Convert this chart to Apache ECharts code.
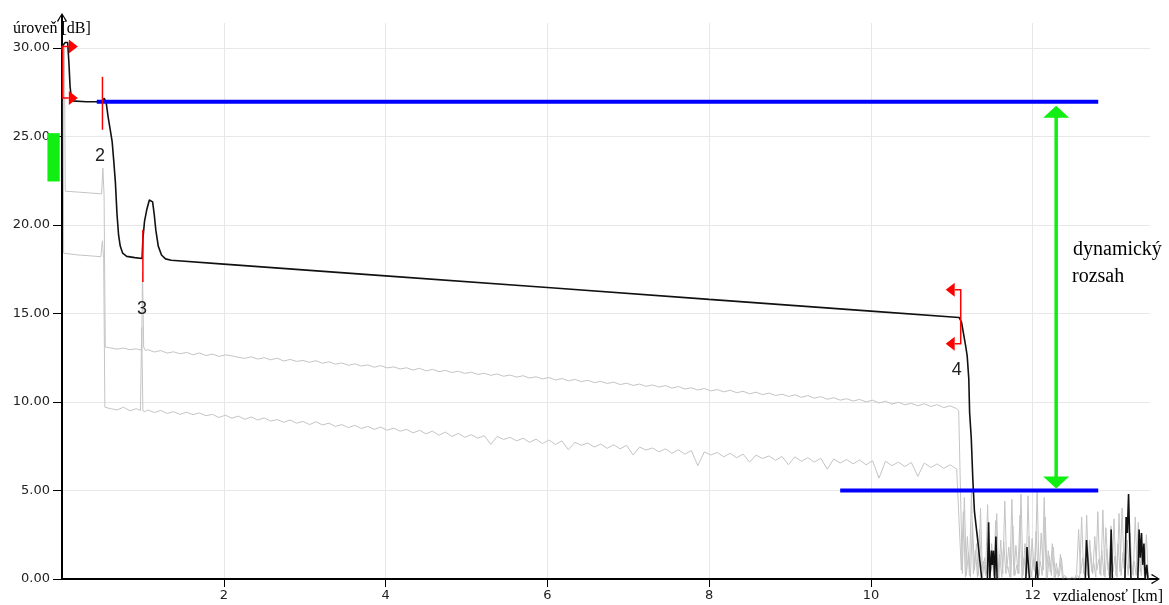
<!DOCTYPE html>
<html><head><meta charset="utf-8">
<script src="https://cdn.jsdelivr.net/npm/echarts@6/dist/echarts.min.js"></script>
<style>html,body{margin:0;padding:0;background:#fff}#c{width:1169px;height:605px}</style>
</head><body><div id="c"></div>
<script>
// ---------------- DATA ----------------
const yTickValues = [0, 5, 10, 15, 20, 25, 30];
const xTickValues = [2, 4, 6, 8, 10, 12];

// main (black) trace: [distance km, level dB]
const blackTrace = [
  [0,27.0],[0.005,30.1],[0.04,30.3],[0.07,30.3],[0.085,29.2],[0.1,27.8],[0.12,27.0],[0.14,26.95],[0.3,26.95],[0.5,26.95],
  [0.52,27.15],[0.545,26.95],[0.57,26.1],[0.595,25.4],[0.62,24.7],[0.64,23.6],[0.66,22.4],[0.68,20.6],[0.70,19.4],[0.72,18.8],
  [0.75,18.4],[0.8,18.22],[0.9,18.15],[0.99,18.1],[1.0,19.2],[1.02,20.2],[1.05,20.9],[1.08,21.4],[1.10,21.5],[1.12,21.3],
  [1.14,20.6],[1.16,19.7],[1.19,18.8],[1.23,18.3],[1.28,18.08],[1.35,18.0],[2,17.78],[4,17.12],[6,16.46],[8,15.79],
  [10,15.13],[11.09,14.77],[11.12,14.5],[11.17,13.2],[11.19,12.6],[11.21,11.3],[11.22,9.4],[11.24,8.0],[11.26,5.6],[11.28,3.8],
  [11.32,2.2],[11.37,0],[11.44,0],[11.455,3.2],[11.47,0],[11.49,1.6],[11.50,0.8],[11.515,1.6],[11.53,0],[11.545,2.4],
  [11.56,0],[11.915,0],[11.93,1.8],[11.945,0.9],[11.96,0],[12.035,0],[12.05,1.0],[12.065,0],[12.65,0],[12.665,2.2],
  [12.68,1.2],[12.695,0],[12.955,0],[12.97,2.8],[12.985,0],[13.14,0],[13.155,3.5],[13.17,2.6],[13.185,4.8],[13.20,2.0],
  [13.215,0],[13.30,0],[13.315,2.8],[13.33,1.2],[13.345,2.6],[13.36,0.8],[13.375,2.0],[13.39,0],[13.41,0.8],[13.425,0]
];

// upper grey trace
const upperGrayHead = [
  [0,30.1],[0.03,30.0],[0.04,21.9],[0.2,21.85],[0.35,21.8],[0.49,21.75],[0.505,23.2],[0.52,21.7],[0.535,13.1],[0.6,13.05],
  [0.68,12.98],[0.76,13.04],[0.84,12.95],[0.92,13.0],[0.985,12.92],[0.995,17.4],[1.01,13.1],[1.03,12.9]
];
const upperGrayStart = 1.06, upperGrayStep = 0.08;
const upperGrayLevels = [
  12.95,12.82,12.90,12.76,12.83,12.72,12.80,12.66,12.77,12.62,
  12.70,12.57,12.66,12.60,12.52,12.46,12.55,12.42,12.50,12.38,
  12.47,12.31,12.40,12.29,12.34,12.24,12.33,12.18,12.27,12.13,
  12.20,12.07,12.15,12.03,12.09,11.96,12.05,11.92,11.98,11.86,
  11.93,11.80,11.90,11.75,11.84,11.71,11.78,11.66,11.73,11.61,
  11.68,11.55,11.62,11.50,11.58,11.45,11.52,11.40,11.48,11.35,
  11.42,11.30,11.38,11.24,11.32,11.19,11.27,11.15,11.22,11.09,
  11.16,11.04,11.12,10.98,11.06,10.93,11.01,10.88,10.96,10.84,
  10.92,10.78,10.87,10.73,10.80,10.67,10.76,10.62,10.70,10.57,
  10.66,10.52,10.60,10.46,10.55,10.41,10.50,10.36,10.44,10.31,
  10.40,10.26,10.36,10.21,10.30,10.15,10.24,10.10,10.18,10.05,
  10.14,10.00,10.10,9.94,10.04,9.88,9.98,9.84,9.92,9.78,
  9.90,9.74,9.85,9.68,9.78,9.62
];
const upperGrayDrop = [[11.085,9.5]];
const upperNoiseStart = 11.13, upperNoiseStep = 0.025;
const upperNoiseLevels = [
  0.3,4.6,0.2,1.5,0.1,3.2,0.5,2.0,0.2,4.0,0.1,1.2,0.3,2.6,0.4,0.9,0.2,3.7,0,2.2,
  0.3,4.4,0.6,1.8,0.1,3.0,0.2,0.8,0.3,4.8,0.2,2.0,0.3,2.4,0.1,1.1,0.4,4.9,0.2,2.6,
  0.5,3.5,0,1.3,0.2,1.8,0.1,0.6,0.2,1.2,0,0.1,0,0,0.1,0,0,0.2,0,3.5,
  0.3,1.4,0.2,2.2,0.4,0.9,0.1,3.8,0.3,1.6,0.2,2.9,0.5,1.2,0.1,3.4,0.2,2.0,0.4,4.0,
  0.6,1.5,0.2,2.6,0.3,1.0,0.2,3.2,0.4,1.8,0.2,2.5,0
];

// lower grey trace
const lowerGrayHead = [
  [0,30.1],[0.015,29.0],[0.02,18.4],[0.2,18.3],[0.35,18.25],[0.48,18.2],[0.50,19.1],[0.515,18.1],[0.53,9.7],[0.6,9.62],
  [0.68,9.55],[0.76,9.7],[0.84,9.5],[0.92,9.62],[0.97,9.52],[0.985,14.2],[1.0,9.5],[1.03,9.45]
];
const lowerGrayStart = 1.06, lowerGrayStep = 0.08;
const lowerGrayLevels = [
  9.55,9.40,9.52,9.35,9.45,9.30,9.42,9.28,9.38,9.22,
  9.30,9.12,9.25,9.08,9.20,9.02,9.15,8.98,9.10,8.92,
  9.00,8.85,8.98,8.80,8.90,8.72,8.88,8.70,8.80,8.62,
  8.72,8.55,8.68,8.50,8.62,8.45,8.58,8.40,8.52,8.35,
  8.45,8.25,8.40,8.20,8.35,8.12,8.30,8.05,8.22,8.00,
  8.15,7.95,8.10,7.60,8.05,7.88,8.00,7.80,7.95,7.72,
  7.90,7.65,7.85,7.60,7.80,7.30,7.72,7.55,7.68,7.45,
  7.62,7.38,7.58,7.35,7.55,7.00,7.45,7.28,7.40,7.18,
  7.35,7.10,7.30,7.05,7.25,6.40,7.18,7.00,7.15,6.90,
  7.10,6.85,7.05,6.60,7.00,6.80,6.95,6.70,6.92,6.45,
  6.90,6.65,6.85,6.60,6.82,6.20,6.78,6.55,6.75,6.50,
  6.72,6.45,6.68,5.70,6.65,6.40,6.60,6.35,6.58,5.80,
  6.55,6.30,6.50,6.25,6.45,6.20
];
const lowerNoiseStart = 11.1175, lowerNoiseStep = 0.025;
const lowerNoiseLevels = [
  0.5,3.8,0.1,2.4,0.2,4.9,0.3,1.6,0.1,2.8,0.6,1.0,0.2,4.2,0.1,2.0,0.2,3.3,0.4,1.4,
  0.1,2.1,0.3,0.7,0.1,4.5,0.2,1.9,0.3,3.6,0,1.2,0.2,4.7,0.1,2.3,0.5,2.7,0.2,1.0,
  0.2,4.6,0.1,1.6,0.4,2.0,0,0.9,0.1,1.4,0,0.2,0.1,0,0,0.1,0,0.3,2.8,0.3,
  1.2,0.2,3.6,0.1,1.5,0.3,2.4,0.5,1.1,0.2,3.9,0.1,1.7,0.2,3.0,0.4,1.3,0.1,3.7,0.2,
  1.5,0.1,2.2,0.6,1.0,0.2,3.5,0.3,1.4,0.2,1.8,0.1,0
];

// blue reference levels
const blueUpper = [[0.43,26.95],[12.81,26.95]];
const blueLower = [[9.62,5.0],[12.81,5.0]];
// dynamic range arrow: [distance, top level, bottom level]
const rangeArrow = [[12.29, 26.95, 5.0]];
// green bar left of axis: [dist from, level top, dist to, level bottom]
const greenBar = [[-0.18, 25.18, -0.028, 22.45]];
// red bracket markers: [distance, upper level, lower level, direction]
const markerBrackets = [[0.01, 30.07, 27.16, 1], [11.11, 16.33, 13.28, -1]];
// red tick markers: [distance, upper level, lower level]
const markerTicks = [[0.5, 28.36, 25.37], [1.0, 19.72, 16.78]];
// event numbers: [label, distance, level]
const eventLabels = [['2', 0.47, 23.9], ['3', 0.99, 15.25], ['4', 11.06, 11.8]];

// ---------------- BUILD ----------------
function sampled(start, step, levels) {
  return levels.map((v, i) => [Math.round((start + step * i) * 10000) / 10000, v]);
}
const upperGray = upperGrayHead
  .concat(sampled(upperGrayStart, upperGrayStep, upperGrayLevels))
  .concat(upperGrayDrop)
  .concat(sampled(upperNoiseStart, upperNoiseStep, upperNoiseLevels));
const lowerGray = lowerGrayHead
  .concat(sampled(lowerGrayStart, lowerGrayStep, lowerGrayLevels))
  .concat(sampled(lowerNoiseStart, lowerNoiseStep, lowerNoiseLevels));

const RED = '#ff0000', GREEN = '#11ee11', BLUE = '#0000ff';
const chevron = 'path://M0,8 L5,0 L10,8 L9,9 L6,3.5 L6,20 L4,20 L4,3.5 L1,9 Z';
const tickFont = { fontFamily: 'DejaVu Sans', fontSize: 13, color: '#222' };

const chart = echarts.init(document.getElementById('c'), null, { renderer: 'canvas' });
chart.setOption({
  animation: false,
  backgroundColor: '#fff',
  grid: { left: 62, right: 19, top: 23, bottom: 26, containLabel: false, outerBoundsMode: 'none' },
  xAxis: {
    type: 'value', min: 0, max: 13.45, interval: 2,
    axisLine: { show: true, onZero: false, lineStyle: { color: '#000', width: 2 }, symbol: ['none', chevron], symbolSize: [10, 20] },
    axisTick: { show: true, length: 8, lineStyle: { color: '#000', width: 1 }, customValues: xTickValues },
    axisLabel: { show: true, margin: 10, customValues: xTickValues, ...tickFont },
    splitLine: { show: true, lineStyle: { color: '#e8e8e8', width: 1 } }
  },
  yAxis: {
    type: 'value', min: 0, max: 31.4, interval: 5,
    axisLine: { show: true, onZero: false, lineStyle: { color: '#000', width: 2 }, symbol: ['none', chevron], symbolSize: [10, 20] },
    axisTick: { show: true, length: 9, lineStyle: { color: '#000', width: 1 }, customValues: yTickValues },
    axisLabel: { show: true, margin: 12, customValues: yTickValues, formatter: v => Number(v).toFixed(2), ...tickFont },
    splitLine: { show: true, lineStyle: { color: '#e8e8e8', width: 1 } }
  },
  graphic: [
    { type: 'text', x: 13, y: 29, z: 100, style: { text: 'úroveň [dB]', font: '16px "Liberation Serif"', fill: '#000', textAlign: 'left', textVerticalAlign: 'middle', align: 'left', verticalAlign: 'middle' } },
    { type: 'text', x: 1163, y: 597, z: 100, style: { text: 'vzdialenosť [km]', font: '16px "Liberation Serif"', fill: '#000', textAlign: 'right', textVerticalAlign: 'middle', align: 'right', verticalAlign: 'middle' } },
    { type: 'text', x: 1073, y: 250, z: 100, style: { text: 'dynamický', font: '20px "Liberation Serif"', fill: '#000', textAlign: 'left', textVerticalAlign: 'middle', align: 'left', verticalAlign: 'middle' } },
    { type: 'text', x: 1072, y: 277, z: 100, style: { text: 'rozsah', font: '20px "Liberation Serif"', fill: '#000', textAlign: 'left', textVerticalAlign: 'middle', align: 'left', verticalAlign: 'middle' } }
  ],
  series: [
    { type: 'line', data: lowerGray, showSymbol: false, symbol: 'none', z: 1, lineStyle: { color: '#c4c4c4', width: 1 } },
    { type: 'line', data: upperGray, showSymbol: false, symbol: 'none', z: 1, lineStyle: { color: '#c4c4c4', width: 1 } },
    { type: 'line', data: blackTrace, showSymbol: false, symbol: 'none', z: 2, lineStyle: { color: '#111', width: 1.6 } },
    { type: 'line', data: blueUpper, showSymbol: false, symbol: 'none', z: 3, lineStyle: { color: BLUE, width: 4 } },
    { type: 'line', data: blueLower, showSymbol: false, symbol: 'none', z: 3, lineStyle: { color: BLUE, width: 4 } },
    {
      type: 'custom', data: rangeArrow, z: 4, clip: false,
      renderItem: (params, api) => {
        const pT = api.coord([api.value(0), api.value(1)]);
        const pB = api.coord([api.value(0), api.value(2)]);
        const tipT = pT[1] + 4, tipB = pB[1] - 2, h = 12, w = 13;
        return { type: 'group', children: [
          { type: 'line', shape: { x1: pT[0], y1: tipT + h - 1, x2: pB[0], y2: tipB - h + 1 }, style: { stroke: GREEN, lineWidth: 3.5 } },
          { type: 'polygon', shape: { points: [[pT[0], tipT], [pT[0] - w, tipT + h], [pT[0] + w, tipT + h]] }, style: { fill: GREEN } },
          { type: 'polygon', shape: { points: [[pB[0], tipB], [pB[0] - w, tipB - h], [pB[0] + w, tipB - h]] }, style: { fill: GREEN } }
        ] };
      }
    },
    {
      type: 'custom', data: greenBar, z: 4, clip: false,
      renderItem: (params, api) => {
        const a = api.coord([api.value(0), api.value(1)]);
        const b = api.coord([api.value(2), api.value(3)]);
        return { type: 'rect', shape: { x: a[0], y: a[1], width: b[0] - a[0], height: b[1] - a[1] }, style: { fill: GREEN } };
      }
    },
    {
      type: 'custom', data: markerBrackets, z: 5, clip: false,
      renderItem: (params, api) => {
        const x = api.value(0), dir = api.value(3);
        const pT = api.coord([x, api.value(1)]), pB = api.coord([x, api.value(2)]);
        const arm = 6, tri = 9, half = 7;
        const head = p => ({ type: 'polygon', shape: { points: [[p[0] + dir * arm, p[1] - half], [p[0] + dir * (arm + tri), p[1]], [p[0] + dir * arm, p[1] + half]] }, style: { fill: RED } });
        return { type: 'group', children: [
          { type: 'polyline', shape: { points: [[pT[0] + dir * arm, pT[1]], pT, pB, [pB[0] + dir * arm, pB[1]]] }, style: { stroke: RED, lineWidth: 1.5, fill: null } },
          head(pT), head(pB)
        ] };
      }
    },
    {
      type: 'custom', data: markerTicks, z: 5, clip: false,
      renderItem: (params, api) => {
        const pT = api.coord([api.value(0), api.value(1)]), pB = api.coord([api.value(0), api.value(2)]);
        return { type: 'line', shape: { x1: pT[0], y1: pT[1], x2: pB[0], y2: pB[1] }, style: { stroke: RED, lineWidth: 1.5 } };
      }
    },
    {
      type: 'custom', data: eventLabels.map(d => [d[1], d[2], d[0]]), z: 6, clip: false,
      dimensions: ['x', 'y', 'label'],
      encode: { x: 0, y: 1 },
      renderItem: (params, api) => {
        const p = api.coord([api.value(0), api.value(1)]);
        return { type: 'text', style: { text: String(eventLabels[params.dataIndex][0]), x: p[0], y: p[1], font: '18px "Liberation Sans"', fill: '#222', textAlign: 'center', textVerticalAlign: 'middle', align: 'center', verticalAlign: 'middle' } };
      }
    }
  ]
});
</script></body></html>
